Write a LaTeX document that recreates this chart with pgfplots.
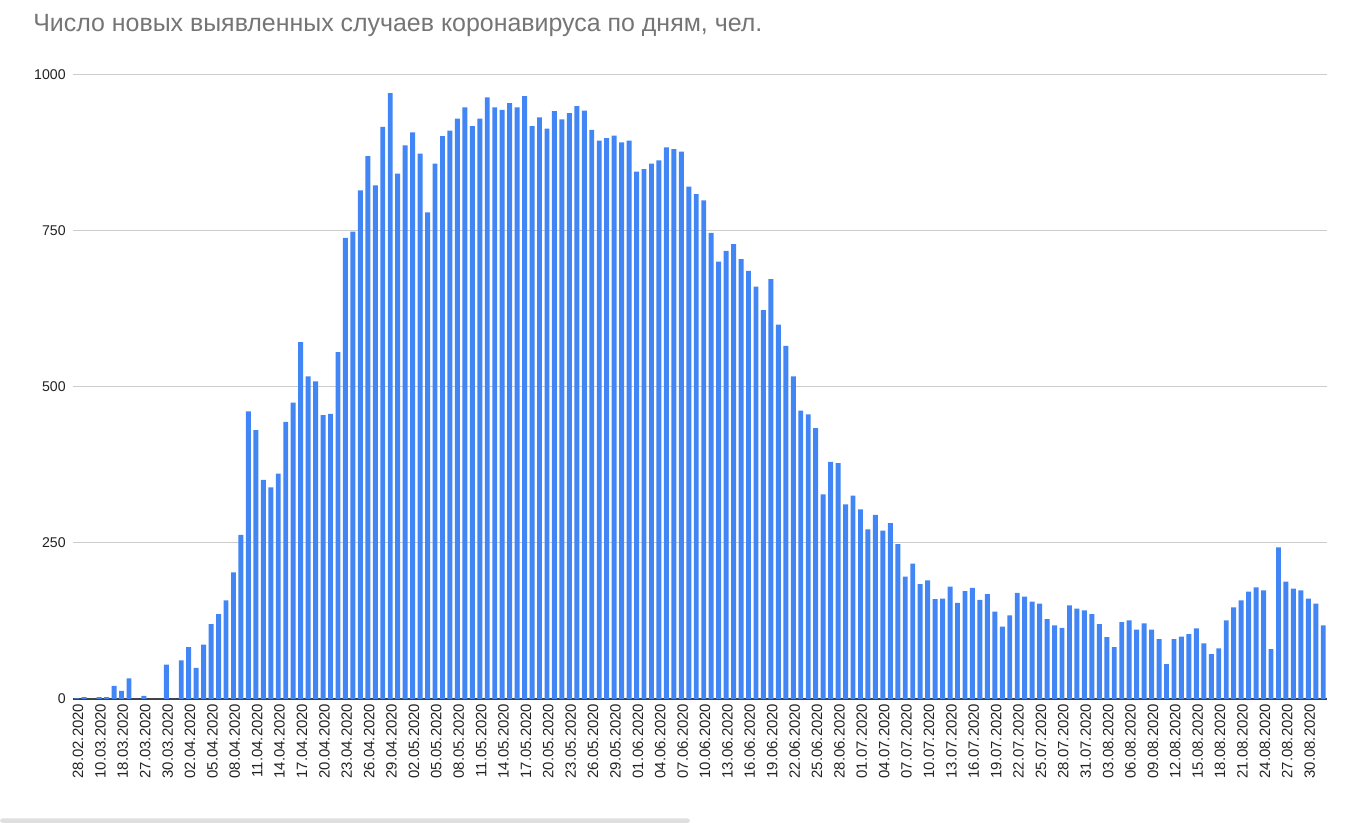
\documentclass[border=0pt]{standalone}
\usepackage{fontspec}
\setmainfont{Liberation Sans}
\usepackage{pgfplots}
\pgfplotsset{compat=1.18}
\definecolor{gblue}{HTML}{4285F4}
\definecolor{gridgray}{HTML}{CCCCCC}
\definecolor{titlegray}{HTML}{757575}
\definecolor{labelgray}{HTML}{222222}

\begin{document}
\begin{tikzpicture}
% canvas 1365x823 px at 0.75pt per px
\path[use as bounding box] (0pt,0pt) rectangle (1023.75pt,617.25pt);
\node[anchor=base west, text=titlegray, inner sep=0pt,
      font=\fontsize{18.7}{22}\selectfont] at (24.75pt,593.25pt)
  {Число новых выявленных случаев коронавируса по дням, чел.};
\fill[gray!25, rounded corners=2pt] (0pt,0pt) rectangle (517.5pt,3.5pt);

\begin{axis}[
  at={(54.75pt,93pt)}, anchor=south west,
  scale only axis, width=940.5pt, height=468pt,
  ybar, bar width=3.7pt,
  xmin=-0.5, xmax=167.5, ymin=0, ymax=1000,
  enlarge x limits=false, enlarge y limits=false,
  axis line style={draw=none},
  major tick length=0pt,
  ymajorgrids, grid style={draw=gridgray, line width=0.75pt},
  ytick={250,500,750,1000},
  extra y ticks={0},
  extra y tick style={grid style={draw=black!75, line width=0.8pt}},
  /pgf/number format/1000 sep={},
  /pgf/number format/assume math mode=true,
  yticklabel style={font=\fontsize{10.6}{12}\selectfont, text=labelgray, xshift=-2pt},
  xtick={0,3,...,165},
  xticklabels={28.02.2020,10.03.2020,18.03.2020,27.03.2020,30.03.2020,
    02.04.2020,05.04.2020,08.04.2020,11.04.2020,14.04.2020,17.04.2020,20.04.2020,23.04.2020,26.04.2020,29.04.2020,
    02.05.2020,05.05.2020,08.05.2020,11.05.2020,14.05.2020,17.05.2020,20.05.2020,23.05.2020,26.05.2020,29.05.2020,
    01.06.2020,04.06.2020,07.06.2020,10.06.2020,13.06.2020,16.06.2020,19.06.2020,22.06.2020,25.06.2020,28.06.2020,
    01.07.2020,04.07.2020,07.07.2020,10.07.2020,13.07.2020,16.07.2020,19.07.2020,22.07.2020,25.07.2020,28.07.2020,31.07.2020,
    03.08.2020,06.08.2020,09.08.2020,12.08.2020,15.08.2020,18.08.2020,21.08.2020,24.08.2020,27.08.2020,30.08.2020},
  xticklabel style={rotate=90, anchor=east, font=\fontsize{11.2}{13}\selectfont, text=labelgray, yshift=-1pt},
]
\addplot[draw=none, fill=gblue] coordinates {
(0,1) (1,3) (2,0) (3,3) (4,3) (5,21) (6,13) (7,33) (8,0) (9,5) (10,0) (11,0)
(12,55) (13,0) (14,62) (15,83) (16,50) (17,87) (18,120) (19,136) (20,158) (21,203)
(22,263) (23,461) (24,431) (25,351) (26,339) (27,361) (28,444) (29,475) (30,572) (31,517)
(32,509) (33,455) (34,457) (35,556) (36,739) (37,749) (38,815) (39,870) (40,823) (41,917)
(42,971) (43,842) (44,887) (45,908) (46,874) (47,780) (48,858) (49,902) (50,911) (51,930)
(52,948) (53,918) (54,930) (55,964) (56,948) (57,944) (58,955) (59,948) (60,966) (61,918)
(62,932) (63,914) (64,942) (65,929) (66,939) (67,950) (68,943) (69,912) (70,895) (71,899)
(72,903) (73,892) (74,895) (75,845) (76,849) (77,858) (78,863) (79,884) (80,881) (81,877)
(82,821) (83,809) (84,799) (85,747) (86,701) (87,718) (88,729) (89,705) (90,686) (91,661)
(92,623) (93,673) (94,600) (95,566) (96,517) (97,462) (98,456) (99,434) (100,328) (101,380)
(102,378) (103,312) (104,326) (105,304) (106,272) (107,295) (108,270) (109,282) (110,248) (111,196)
(112,217) (113,184) (114,190) (115,160) (116,161) (117,180) (118,154) (119,173) (120,178) (121,159)
(122,168) (123,140) (124,116) (125,134) (126,170) (127,164) (128,156) (129,153) (130,128) (131,118)
(132,114) (133,150) (134,145) (135,142) (136,136) (137,120) (138,99) (139,83) (140,123) (141,126)
(142,111) (143,121) (144,111) (145,96) (146,56) (147,96) (148,100) (149,104) (150,113) (151,89)
(152,72) (153,81) (154,126) (155,147) (156,158) (157,172) (158,179) (159,174) (160,80) (161,243)
(162,188) (163,177) (164,174) (165,161) (166,153) (167,118)
};
\end{axis}
\end{tikzpicture}
\end{document}
